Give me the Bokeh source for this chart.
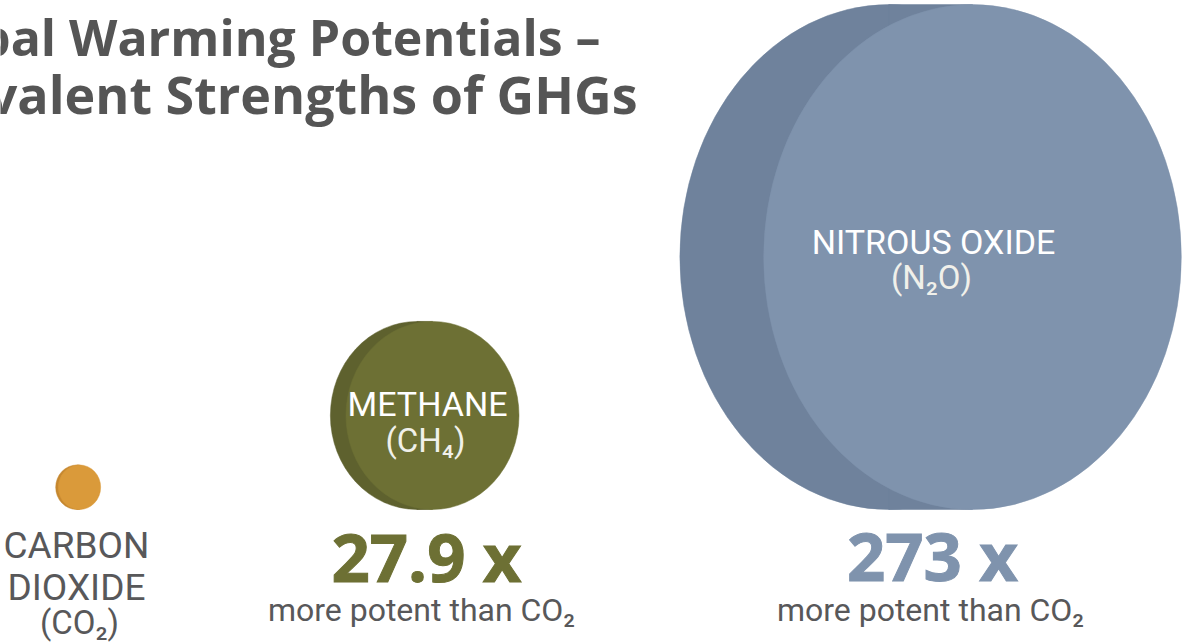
from bokeh.plotting import figure
from bokeh.models import Range1d, ColumnDataSource
from bokeh.core.properties import value
from bokeh.embed import file_html
from bokeh.resources import INLINE

# ---------------- data ----------------
title_lines = ["Global Warming Potentials –", "Equivalent Strengths of GHGs"]
gases = ["Carbon dioxide", "Methane", "Nitrous oxide"]
name_lines = [["CARBON", "DIOXIDE"], ["METHANE"], ["NITROUS OXIDE"]]
formulas = ["(CO₂)", "(CH₄)", "(N₂O)"]
gwp = [1, 27.9, 273]
potency_note = "more potent than CO₂"

# ---------------- layout / style ----------------
W, H = 1183, 642


def sy(Y):
    """screen-pixel row -> data y"""
    return H - Y


def tb(Y, fs, k=0.34):
    """target baseline row -> data y for a text of font size fs"""
    return sy(Y - k * fs)


face_colors = ["#DA9A3A", "#6D7034", "#7F93AD"]
back_colors = ["#C68830", "#5E612E", "#6F829C"]
face_x = [79, 432, 972]
shift_frac = [0.06, 0.083, 0.166]
aspect = [0.95, 0.92, 0.827]
BASE_Y = 509
SIZE_K, SIZE_P = 44.5, 0.433   # power scale: diameter = K * gwp ** P

GRAY = "#58585A"
WHITE = "#FFFFFF"
BOLD_FONT = value("Open Sans")
LABEL_FONT = value("Roboto")
OS_K = 0.38

p = figure(width=W, height=H, output_backend="svg", toolbar_location=None,
           x_range=Range1d(0, W), y_range=Range1d(0, H),
           min_border=0, outline_line_color=None,
           background_fill_color="white", border_fill_color="white")
p.axis.visible = False
p.grid.visible = False

# ---------------- discs ----------------
diam = [SIZE_K * g ** SIZE_P for g in gwp]
cy = [sy(BASE_Y - d / 2) for d in diam]
back_x = [fx - s * d for fx, s, d in zip(face_x, shift_frac, diam)]
widths = [a * d for a, d in zip(aspect, diam)]

src = ColumnDataSource(dict(gas=gases, fx=face_x, bx=back_x, y=cy, w=widths, h=diam,
                            top=[c + d / 2 for c, d in zip(cy, diam)],
                            bottom=[c - d / 2 for c, d in zip(cy, diam)],
                            fc=face_colors, bc=back_colors))
p.ellipse(x="bx", y="y", width="w", height="h", fill_color="bc", line_color="bc",
          line_width=0.5, source=src)
p.quad(left="bx", right="fx", top="top", bottom="bottom", fill_color="bc", line_color="bc",
       line_width=0.5, source=src)
p.ellipse(x="fx", y="y", width="w", height="h", fill_color="fc", line_color="fc",
          line_width=0.5, source=src)

# ---------------- title ----------------
p.text(x=[600], y=[tb(55, 50, OS_K)], text=[title_lines[0]],
       text_font=BOLD_FONT, text_font_style="bold", text_font_size="50px",
       text_color="#555555", text_align="right", text_baseline="alphabetic")
p.text(x=[637], y=[tb(113, 52, OS_K)], text=[title_lines[1]],
       text_font=BOLD_FONT, text_font_style="bold", text_font_size="52px",
       text_color="#555555", text_align="right", text_baseline="alphabetic")

# ---------------- CO2 label (below disc) ----------------
LFS = 37
p.text(x=[76, 76], y=[tb(558, LFS), tb(600, LFS)], text=name_lines[0],
       text_font=LABEL_FONT, text_font_size=f"{LFS}px", text_color=GRAY,
       text_align="center", text_baseline="alphabetic")
p.text(x=[79], y=[tb(633, 33)], text=[formulas[0]],
       text_font=LABEL_FONT, text_font_size="33px", text_color=GRAY,
       text_align="center", text_baseline="alphabetic")

# ---------------- labels inside discs ----------------
IFS = 34
p.text(x=[427, 933], y=[tb(415, IFS), tb(253, IFS)], text=[name_lines[1][0], name_lines[2][0]],
       text_font=LABEL_FONT, text_font_size=f"{IFS}px", text_color=WHITE,
       text_align="center", text_baseline="alphabetic")
p.text(x=[425, 931], y=[tb(451, 33), tb(288, 33)], text=[formulas[1], formulas[2]],
       text_font=LABEL_FONT, text_font_size="33px", text_color="#F0F0EA",
       text_align="center", text_baseline="alphabetic")

# ---------------- multipliers ----------------
MFS = 67
mult_text = [f"{g:g} x" for g in gwp[1:]]
p.text(x=[426, 932], y=[tb(581, MFS, OS_K), tb(580, MFS, OS_K)], text=mult_text,
       text_font=BOLD_FONT, text_font_style="bold", text_font_size=f"{MFS}px",
       text_color=face_colors[1:], text_outline_color=face_colors[1:],
       text_align="center", text_baseline="alphabetic")
NFS = 32
p.text(x=[421, 930], y=[tb(620, NFS), tb(620, NFS)], text=[potency_note] * 2,
       text_font=LABEL_FONT, text_font_size=f"{NFS}px", text_color=GRAY,
       text_align="center", text_baseline="alphabetic")

open("out.html", "w").write(file_html(p, INLINE))
